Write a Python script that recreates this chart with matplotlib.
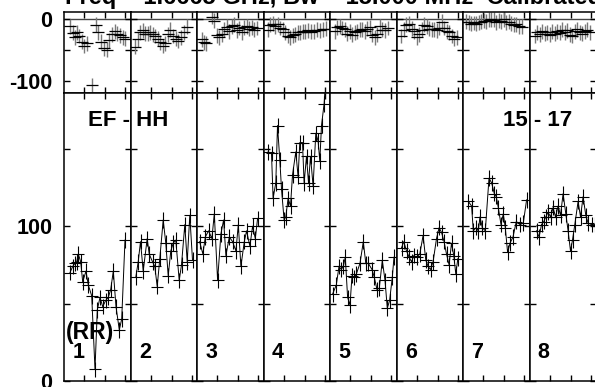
import matplotlib
matplotlib.use("Agg")
import matplotlib.pyplot as plt

plt.rcParams['font.family'] = ['Liberation Sans', 'DejaVu Sans']

title = "Freq = 1.6665 GHz, Bw = 15.000 MHz  Calibrated"
panel_labels = ['1', '2', '3', '4', '5', '6', '7', '8']
baseline_label = "EF - HH"
time_label = "15 - 17"
pol_label = "(RR)"

amp_time = [
    [0.57, 0.84, 1.07, 1.24, 1.40, 1.64, 1.84, 2.17, 2.40, 2.74, 3.07, 3.30, 3.57, 3.84, 4.14, 4.40, 4.64, 4.90, 5.17, 5.50, 5.74, 6.07],
    [0.50, 0.74, 0.97, 1.24, 1.64, 1.84, 2.17, 2.40, 2.64, 2.90, 3.24, 3.50, 3.74, 4.00, 4.24, 4.50, 4.84, 5.07, 5.40, 5.64, 5.90, 6.17],
    [0.23, 0.56, 0.80, 1.13, 1.46, 1.70, 2.03, 2.36, 2.63, 2.86, 3.20, 3.53, 3.86, 4.10, 4.36, 4.70, 4.93, 5.26, 5.53, 5.80, 6.03],
    [0.43, 0.77, 0.93, 1.20, 1.37, 1.60, 1.77, 2.03, 2.20, 2.43, 2.67, 2.87, 3.20, 3.43, 3.60, 3.87, 4.03, 4.27, 4.47, 4.67, 4.93, 5.20, 5.43, 5.60, 5.77, 6.03, 6.25],
    [0.22, 0.60, 0.87, 1.10, 1.30, 1.50, 1.73, 1.97, 2.17, 2.40, 2.60, 2.97, 3.30, 3.55, 3.80, 4.17, 4.40, 4.67, 4.90, 5.20, 5.47, 5.70, 5.93, 6.20, 6.37],
    [0.47, 0.70, 0.97, 1.23, 1.47, 1.70, 1.97, 2.30, 2.63, 2.90, 3.13, 3.37, 3.63, 3.97, 4.23, 4.47, 4.73, 4.97, 5.23, 5.47, 5.70, 5.90, 6.10],
    [0.50, 0.83, 1.00, 1.27, 1.50, 1.67, 1.90, 2.20, 2.57, 2.83, 3.10, 3.30, 3.50, 3.77, 4.00, 4.20, 4.43, 4.67, 4.97, 5.30, 5.67, 6.00, 6.33],
    [0.67, 0.93, 1.17, 1.40, 1.60, 1.83, 2.07, 2.33, 2.57, 2.83, 3.07, 3.33, 3.60, 3.83, 4.07, 4.27, 4.50, 4.83, 5.07, 5.33, 5.60, 5.83, 6.17, 6.50],
]
amp_vals = [
    [70, 74, 76, 77, 82, 77, 64, 71, 62, 55, 7.5, 46, 54, 48, 52, 54, 59, 71, 48, 33, 40, 91],
    [67, 77, 90, 71, 92, 82, 77, 74, 61, 79, 104, 89, 68, 84, 89, 91, 65, 75, 101, 77, 107, 78],
    [90, 82, 93, 97, 92, 108, 65, 95, 104, 81, 93, 90, 84, 101, 74, 90, 97, 87, 100, 92, 105],
    [148, 147, 118, 128, 165, 143, 124, 104, 106, 118, 113, 133, 148, 132, 154, 154, 128, 145, 128, 145, 126, 160, 155, 142, 165, 179, 200],
    [56, 62, 74, 72, 74, 80, 54, 49, 68, 67, 69, 76, 90, 76, 76, 72, 67, 59, 60, 78, 65, 47, 52, 67, 80],
    [86, 90, 84, 80, 77, 81, 80, 82, 94, 78, 74, 72, 77, 92, 99, 96, 90, 82, 75, 89, 81, 69, 79],
    [116, 113, 97, 99, 97, 106, 99, 97, 131, 128, 121, 119, 112, 101, 108, 99, 83, 89, 93, 103, 101, 102, 117],
    [97, 93, 101, 103, 106, 109, 106, 112, 106, 113, 107, 121, 108, 97, 84, 91, 101, 116, 106, 119, 107, 102, 101, 101],
]

phase_time = [
    [0.57, 0.84, 1.07, 1.24, 1.50, 1.74, 2.00, 2.30, 2.77, 3.17, 3.40, 3.67, 3.97, 4.24, 4.50, 4.77, 5.04, 5.30, 5.57, 5.84, 6.10],
    [0.45, 0.70, 0.95, 1.20, 1.45, 1.70, 1.95, 2.20, 2.45, 2.70, 2.95, 3.20, 3.45, 3.70, 3.95, 4.20, 4.50, 4.75, 5.00, 5.30, 5.60],
    [0.45, 0.65, 0.85, 1.45, 1.65, 1.95, 2.20, 2.45, 2.70, 2.95, 3.20, 3.45, 3.70, 3.95, 4.20, 4.45, 4.70, 4.95, 5.20, 5.45, 5.70, 5.95],
    [0.40, 0.65, 0.90, 1.15, 1.40, 1.65, 1.90, 2.15, 2.40, 2.65, 2.90, 3.15, 3.40, 3.65, 3.90, 4.15, 4.40, 4.70, 5.00, 5.30, 5.60, 5.90, 6.20],
    [0.45, 0.70, 0.95, 1.20, 1.45, 1.70, 1.95, 2.20, 2.45, 2.70, 2.95, 3.20, 3.45, 3.70, 3.95, 4.20, 4.45, 4.70, 4.95, 5.20, 5.50, 5.80],
    [0.45, 0.70, 0.95, 1.20, 1.50, 1.75, 2.00, 2.25, 2.50, 2.75, 3.00, 3.25, 3.50, 3.75, 4.00, 4.25, 4.50, 4.75, 5.00, 5.25, 5.50, 5.75, 6.00],
    [0.30, 0.55, 0.80, 1.05, 1.30, 1.55, 1.80, 2.05, 2.30, 2.55, 2.80, 3.05, 3.30, 3.55, 3.80, 4.05, 4.30, 4.55, 4.80, 5.05, 5.30, 5.60, 5.90],
    [0.50, 0.75, 1.00, 1.25, 1.50, 1.75, 2.00, 2.25, 2.50, 2.75, 3.00, 3.25, 3.50, 3.75, 4.00, 4.25, 4.50, 4.75, 5.00, 5.25, 5.50, 5.75, 6.00],
]
phase_vals = [
    [-12, -23, -30, -22, -28, -37, -44, -40, -107, -10, -22, -37, -48, -50, -35, -25, -20, -24, -27, -30, -32],
    [-45, -33, -22, -19, -24, -24, -22, -25, -28, -32, -38, -44, -40, -25, -18, -28, -32, -36, -30, -22, -13],
    [-33, -38, -40, 3, -3, -27, -30, -25, -17, -13, -20, -12, -10, -19, -15, -22, -14, -12, -16, -14, -18, -15],
    [-18, -10, -8, -12, -9, -15, -17, -22, -28, -30, -27, -25, -22, -22, -20, -21, -19, -21, -20, -18, -19, -17, -16],
    [-20, -14, -12, -15, -17, -24, -20, -26, -22, -20, -18, -17, -20, -16, -14, -26, -30, -25, -12, -18, -19, -15],
    [-28, -18, -10, -8, -16, -20, -30, -25, -18, -10, -12, -16, -17, -17, -19, -15, -5, -15, -20, -22, -28, -32, -30],
    [-5, -6, -8, -7, -8, -6, -5, -3, -4, -2, -1, -2, -6, -3, -4, -1, -6, -5, -8, -10, -9, -12, -13],
    [-28, -22, -25, -20, -24, -22, -26, -21, -24, -20, -23, -18, -22, -19, -26, -28, -20, -17, -22, -24, -20, -18, -22],
]

W, H = 595, 387
fig = plt.figure(figsize=(W / 100, H / 100), dpi=100)
left, pw = 64.3, 66.5
ph_top, mid, amp_bot = 12.0, 93.0, 381.0
FS = 15.5


def fx(px):
    return px / W


def fy(py):
    return 1 - py / H


def style(ax, first):
    for s in ax.spines.values():
        s.set_linewidth(1.1)
        s.set_color('black')
    ax.set_xlim(0, 6.65)
    ax.set_xticks([2.0, 4.07, 6.1])
    ax.tick_params(axis='both', direction='in', top=True, right=True,
                   length=4.5, width=1.0, labelbottom=False,
                   labelleft=first, labelsize=FS, pad=8.5)
    for lab in ax.get_yticklabels():
        lab.set_fontweight('bold')


for i in range(8):
    x0 = left + i * pw
    axp = fig.add_axes([fx(x0), fy(mid), pw / W, (mid - ph_top) / H])
    axa = fig.add_axes([fx(x0), fy(amp_bot), pw / W, (amp_bot - mid) / H])

    # phase panel
    axp.axhline(0, color='#444444', lw=1.0, zorder=1)
    axp.errorbar(phase_time[i], phase_vals[i], yerr=12, fmt='none',
                 ecolor='#7a7a7a', elinewidth=1.0, zorder=2)
    axp.errorbar(phase_time[i], phase_vals[i], xerr=0.6, fmt='none',
                 ecolor='black', elinewidth=0.9, zorder=3)
    axp.set_ylim(-120, 10.8)
    axp.set_yticks([-100, -50, 0])
    axp.set_yticklabels(['-100', '', '0'])
    style(axp, i == 0)

    # amplitude panel
    axa.plot(amp_time[i], amp_vals[i], color='black', lw=0.7, zorder=2)
    axa.errorbar(amp_time[i], amp_vals[i], xerr=0.6, yerr=5, fmt='none',
                 ecolor='black', elinewidth=0.8, zorder=3)
    axa.set_ylim(0, 186)
    axa.set_yticks([0, 50, 100, 150])
    axa.set_yticklabels(['0', '', '100', ''])
    style(axa, i == 0)

    fig.text(fx(x0 + 8), fy(358), panel_labels[i], fontsize=FS,
             fontweight='bold', va='baseline', ha='left')

fig.text(fx(65), fy(4), title, fontsize=17, fontweight='bold',
         va='baseline', ha='left')
fig.text(fx(88), fy(126), baseline_label, fontsize=16, fontweight='bold',
         va='baseline', ha='left')
fig.text(fx(503), fy(126), time_label, fontsize=16, fontweight='bold',
         va='baseline', ha='left')
fig.text(fx(66), fy(339), pol_label, fontsize=16.5, fontweight='bold',
         va='baseline', ha='left')

fig.savefig('out.png', dpi=100)
